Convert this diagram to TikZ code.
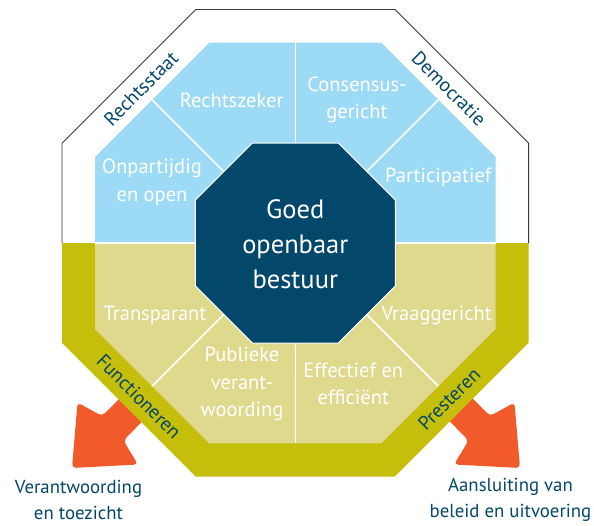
\documentclass[tikz,border=0pt]{standalone}
\usepackage{fontspec}
\setmainfont{PT Sans}
\definecolor{navy}{HTML}{03476A}
\definecolor{lblue}{HTML}{9CDAF6}
\definecolor{lolive}{HTML}{DFD98D}
\definecolor{olive}{HTML}{C5BE0B}
\definecolor{orangeA}{HTML}{F15B2B}
\definecolor{outline}{HTML}{3A3A3A}
\begin{document}
\begin{tikzpicture}[x=1pt,y=-1pt,
  region/.style={text=white, font=\fontsize{20.5}{27.5}\selectfont, align=center, inner sep=0pt},
  bandlbl/.style={text=navy, font=\fontsize{19.5}{20}\selectfont, inner sep=0pt},
  outlbl/.style={text=navy, font=\fontsize{18.8}{26.5}\selectfont, align=center, inner sep=0pt},
  divider/.style={draw=white, line width=1.5pt},
  arrowshape/.style={fill=orangeA, rounded corners=4pt},
  centertext/.style={text=white, font=\fontsize{26.5}{35}\selectfont, align=center, inner sep=0pt}]
\useasboundingbox (0,0) rectangle (594,525);

% orange arrows (under the band)
\path[arrowshape] (152,366) -- (102,416) -- (77.5,402.5) -- (72,468) -- (138,464.5) -- (123.5,440.5) -- (173,390) -- cycle;
\path[arrowshape] (440,366) -- (490,416) -- (514.5,402.5) -- (520,468) -- (454,464.5) -- (468.5,440.5) -- (419,390) -- cycle;

% outer olive band (lower half)
\fill[olive] (62,243) -- (62,342.8) -- (195.7,476.5) -- (394.9,476.5) -- (528.6,342.8) -- (528.6,243) -- cycle;
% outer outline (upper half)
\draw[outline, line width=0.9pt] (62,243) -- (62,143.2) -- (195.7,9.5) -- (394.9,9.5) -- (528.6,143.2) -- (528.6,243);

% inner octagon halves
\fill[lblue] (95,243) -- (95,157) -- (209.3,42.7) -- (381.3,42.7) -- (495.6,157) -- (495.6,243) -- cycle;
\fill[lolive] (95,243) -- (95,329) -- (209.3,443.3) -- (381.3,443.3) -- (495.6,329) -- (495.6,243) -- cycle;

% dividers
\coordinate (tv1) at (295.3,42.7);  \coordinate (tv2) at (295.3,143);
\coordinate (bv1) at (295.3,443.3); \coordinate (bv2) at (295.3,343);
\coordinate (hl1) at (95,243);      \coordinate (hl2) at (195.3,243);
\coordinate (hr1) at (395.3,243);   \coordinate (hr2) at (495.6,243);
\coordinate (tl1) at (152.15,99.85);  \coordinate (tl2) at (223.8,171.5);
\coordinate (tr1) at (438.45,99.85);  \coordinate (tr2) at (366.8,171.5);
\coordinate (bl1) at (152.15,386.15); \coordinate (bl2) at (223.8,314.5);
\coordinate (br1) at (438.45,386.15); \coordinate (br2) at (366.8,314.5);
\draw[divider] (tv1) -- (tv2);
\draw[divider] (bv1) -- (bv2);
\draw[divider] (hl1) -- (hl2);
\draw[divider] (hr1) -- (hr2);
\draw[divider] (tl1) -- (tl2);
\draw[divider] (tr1) -- (tr2);
\draw[divider] (bl1) -- (bl2);
\draw[divider] (br1) -- (br2);

% central octagon
\filldraw[fill=navy, draw=white, line width=1pt] (195.3,200) -- (252.3,143) -- (338.3,143) -- (395.3,200) -- (395.3,286) -- (338.3,343) -- (252.3,343) -- (195.3,286) -- cycle;
\node[centertext] (goed) at (295.3,244) {Goed\\openbaar\\bestuur};

% region labels
\node[region] (rz) at (231.7,100) {Rechtszeker};
\node[region] (cg) at (357,100) {Consensus-\\gericht};
\node[region] (oo) at (152,182) {Onpartijdig\\en open};
\node[region] (pa) at (438.3,177) {Participatief};
\node[region] (tp) at (155,315) {Transparant};
\node[region] (pv) at (242,384) {Publieke\\verant-\\woording};
\node[region] (ee) at (353.3,384) {Effectief en\\efficiënt};
\node[region] (vg) at (436.7,315) {Vraaggericht};

% band labels
\node[bandlbl, rotate=45] (rs) at (141,88.5) {Rechtsstaat};
\node[bandlbl, rotate=-45] (dm) at (449,88.5) {Democratie};
\node[bandlbl, rotate=-45] (fn) at (139,396.5) {Functioneren};
\node[bandlbl, rotate=45] (pr) at (449,399) {Presteren};

% outer labels
\node[outlbl] (vt) at (78.5,500) {Verantwoording\\en toezicht};
\node[outlbl] (ab) at (510.5,500) {Aansluiting van\\beleid en uitvoering};
\end{tikzpicture}
\end{document}
